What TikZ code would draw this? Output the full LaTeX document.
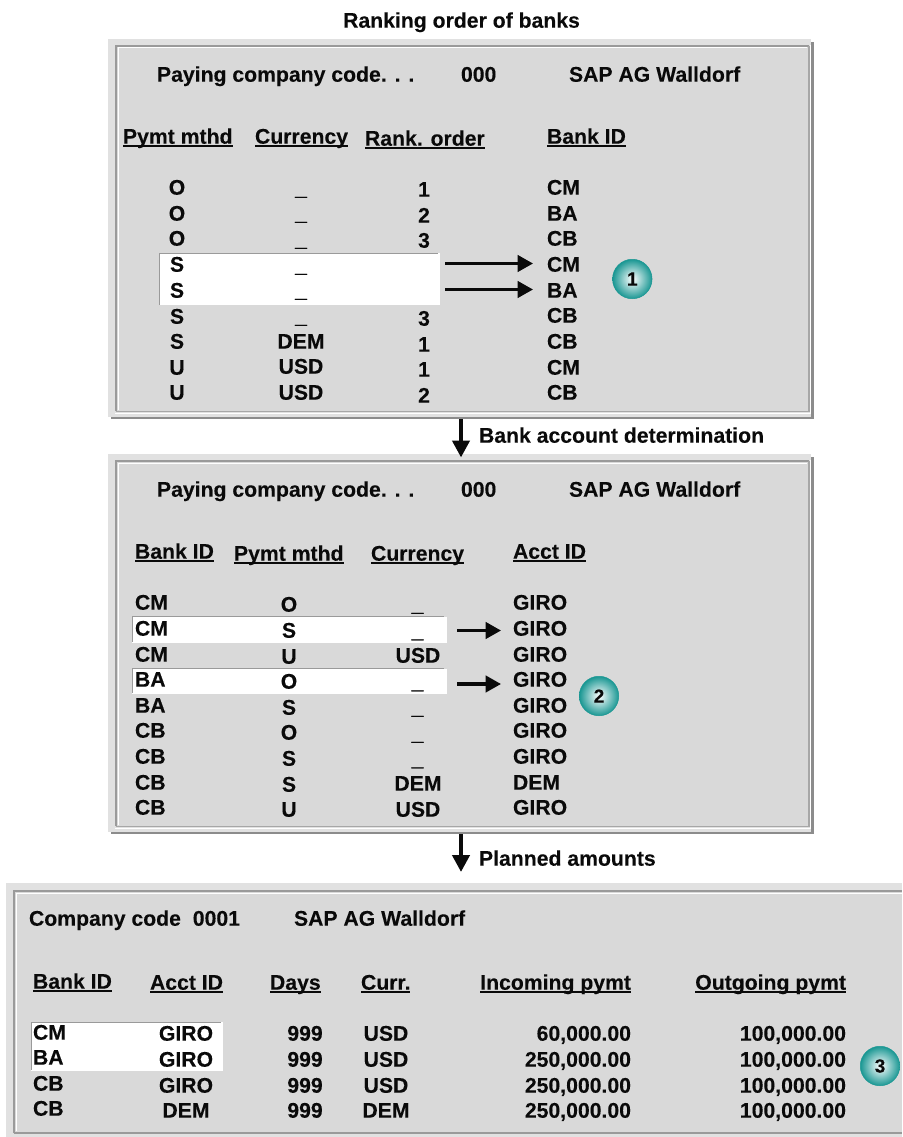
\documentclass[tikz,border=0pt]{standalone}
\usepackage{fontspec}
\setmainfont{Liberation Sans}[BoldFeatures={FakeBold=0.12}]
\newfontfamily\usfont{Liberation Sans}[BoldFeatures={FakeBold=1.1}]
\usetikzlibrary{arrows.meta}
\definecolor{panel}{HTML}{D9D9D9}
\definecolor{band}{HTML}{E1E1E1}
\definecolor{edge}{HTML}{9A9A9A}
\definecolor{shadow}{HTML}{8C8C8C}
\definecolor{ink}{HTML}{0A0A0A}
\definecolor{teal1}{HTML}{1A9793}
\newcommand\ul[1]{\setbox0\hbox{#1}\rlap{\rule[-3.6pt]{\wd0}{2.5pt}}\box0}
\newcommand\us{{\usfont\bfseries\symbol{95}}}
% \tx{anchor}{name}{x}{centre y}{text}
\newcommand\tx[5]{\node[lbl,anchor=#1] (#2) at (#3,#4) {#5};}
\newcommand\panelbox[4]{%
  \fill[shadow] (#1+3,#2+3) rectangle (#3+.5,#4+.7);
  \fill[band] (#1,#2) rectangle (#3-2,#4-1.3);
  \fill[panel] (#1+8,#2+7) rectangle (#3-4,#4-7);
  \draw[white,line width=1pt] (#1+10,#4-8) -- (#1+10,#2+9) -- (#3-6,#2+9);
  \draw[white,line width=1pt] (#1+7,#4-4.5) -- (#3-2.5,#4-4.5) -- (#3-2.5,#2+6);
  \draw[edge,line width=2pt] (#1+8,#4-7) -- (#1+8,#2+7) -- (#3-4,#2+7);
  \draw[edge!80!panel,line width=1.5pt] (#1+8,#4-6.5) -- (#3-4,#4-6.5) -- (#3-4,#2+7);
}
\newcommand\ball[4]{\node[ballstyle] (#1) at (#2,#3) {#4};}
\tikzset{
  lbl/.style={inner sep=0pt,outer sep=0pt,text=ink,font=\fontsize{21.2}{23}\selectfont\bfseries,yshift=-6.7pt},
  ballstyle/.style={circle,minimum size=39.5pt,inner sep=0pt,inner color=white,outer color=teal1,draw=teal1,line width=.5pt,
     font=\fontsize{19}{20}\selectfont\bfseries,text=ink},
  hflow/.style={line width=3.2pt,ink,-{Triangle[length=15.5pt,width=16.5pt]}},
  vflow/.style={line width=4.2pt,ink,-{Triangle[length=17pt,width=17pt]}},
  rowwhite/.style={fill=white},
  rowedge/.style={edge,line width=.7pt},
}
\begin{document}
\begin{tikzpicture}[x=1pt,y=-1pt]
\useasboundingbox (0,0) rectangle (902,1137);
\fill[white] (0,0) rectangle (902,1137);
\panelbox{108}{39}{813}{418}
\panelbox{108}{454}{813}{833}
% bottom panel runs off the right edge
\fill[band] (6,883) rectangle (902,1137);
\fill[panel] (14,891) rectangle (902,1133);
\draw[white,line width=1pt] (16.5,1131) -- (16.5,893.5) -- (902,893.5);
\draw[edge,line width=2pt] (14,1133) -- (14,891) -- (902,891);
\draw[edge,line width=1.3pt] (14,1133) -- (902,1133);
% white highlight rows
\fill[rowwhite] (159,253) rectangle (440,305);
\draw[rowedge] (159,305) -- (159,253) -- (438,253);
\fill[rowwhite] (132,616.5) rectangle (447,642.7);
\draw[rowedge] (132.5,642) -- (132.5,616.5) -- (444,616.5);
\fill[rowwhite] (132,668.5) rectangle (447,694);
\draw[rowedge] (132.5,693) -- (132.5,668.5) -- (444,668.5);
\fill[rowwhite] (31,1022) rectangle (223,1071);
\draw[rowedge] (31,1070) -- (31,1022) -- (221,1022);
% titles
\tx{base}{title}{461.5}{21}{Ranking order of banks}
\tx{base west}{stepA}{479}{436}{Bank account determination}
\tx{base west}{stepB}{479}{859}{Planned amounts}
% top panel
\tx{base west}{a0}{157}{75}{Paying company code. . .}
\tx{base west}{a1}{461}{75}{000}
\tx{base west}{a2}{569}{75}{SAP AG Walldorf}
\tx{base west}{ah1}{123}{137}{\ul{Pymt mthd}}
\tx{base west}{ah2}{255}{137}{\ul{Currency}}
\tx{base west}{ah3}{365}{139}{\ul{Rank. order}}
\tx{base west}{ah4}{547}{137}{\ul{Bank ID}}
\foreach \n/\y/\t in {1/188/O,2/214/O,3/239/O,4/265/S,5/291/S,6/317/S,7/342/S,8/368/U,9/393/U}
  {\tx{base}{ap\n}{177}{\y}{\t}}
\foreach \n/\y in {1/188.5,2/213.5,3/239.5,4/265.5,5/290.5,6/316.5}
  {\tx{base}{ac\n}{301}{\y}{\us}}
\foreach \n/\y/\t in {7/342/DEM,8/367/USD,9/393/USD}
  {\tx{base}{ac\n}{301}{\y}{\t}}
\foreach \n/\y/\t in {1/190/1,2/216/2,3/241/3,6/319/3,7/345/1,8/370/1,9/396/2}
  {\tx{base}{ar\n}{424}{\y}{\t}}
\foreach \n/\y/\t in {1/188/CM,2/214/BA,3/239/CB,4/265/CM,5/291/BA,6/316/CB,7/342/CB,8/368/CM,9/393/CB}
  {\tx{base west}{ab\n}{547}{\y}{\t}}
\ball{n1}{632.3}{279}{1}
\coordinate (a1s) at (445,263.5);
\coordinate (a2s) at (445,289.5);
\draw[hflow,shorten >=14pt] (a1s) -- (ab4.base west |- a1s);
\draw[hflow,shorten >=14pt] (a2s) -- (ab5.base west |- a2s);
% middle panel
\tx{base west}{b0}{157}{490}{Paying company code. . .}
\tx{base west}{b1}{461}{490}{000}
\tx{base west}{b2}{569}{490}{SAP AG Walldorf}
\tx{base west}{bh1}{135}{552}{\ul{Bank ID}}
\tx{base west}{bh2}{234}{554}{\ul{Pymt mthd}}
\tx{base west}{bh3}{371}{554}{\ul{Currency}}
\tx{base west}{bh4}{513}{552}{\ul{Acct ID}}
\foreach \n/\y/\t in {1/603/CM,2/629/CM,3/655/CM,4/680/BA,5/706/BA,6/731/CB,7/757/CB,8/783/CB,9/808/CB}
  {\tx{base west}{bb\n}{135}{\y}{\t}}
\foreach \n/\y/\t in {1/605/O,2/631/S,3/657/U,4/682/O,5/708/S,6/733/O,7/759/S,8/785/S,9/810/U}
  {\tx{base}{bp\n}{289}{\y}{\t}}
\foreach \n/\y in {1/604.5,2/631,4/682,5/707.5,6/733.5,7/759}
  {\tx{base}{bc\n}{417.5}{\y}{\us}}
\foreach \n/\y/\t in {3/656/USD,8/784/DEM,9/810/USD}
  {\tx{base}{bc\n}{418}{\y}{\t}}
\foreach \n/\y/\t in {1/603/GIRO,2/629/GIRO,3/655/GIRO,4/680/GIRO,5/706/GIRO,6/731/GIRO,7/757/GIRO,8/783/DEM,9/808/GIRO}
  {\tx{base west}{ba\n}{513}{\y}{\t}}
\ball{n2}{599}{696}{2}
\coordinate (b1s) at (457,630.5);
\coordinate (b2s) at (457,684);
\draw[hflow,shorten >=12pt] (b1s) -- (ba2.base west |- b1s);
\draw[hflow,shorten >=12pt] (b2s) -- (ba4.base west |- b2s);
% bottom panel
\tx{base west}{c0}{29}{919}{Company code\hspace{6pt} 0001}
\tx{base west}{c2}{294}{919}{SAP AG Walldorf}
\tx{base west}{ch1}{33}{982}{\ul{Bank ID}}
\tx{base west}{ch2}{150}{983}{\ul{Acct ID}}
\tx{base west}{ch3}{270}{983}{\ul{Days}}
\tx{base west}{ch4}{361}{983}{\ul{Curr.}}
\tx{base east}{ch5}{631}{983}{\ul{Incoming pymt}}
\tx{base east}{ch6}{846}{983}{\ul{Outgoing pymt}}
\foreach \n/\y/\t in {1/1033/CM,2/1058/BA,3/1084/CB,4/1109/CB}
  {\tx{base west}{cb\n}{33}{\y}{\t}}
\foreach \n/\y/\t in {1/1034/GIRO,2/1060/GIRO,3/1086/GIRO,4/1111/DEM}
  {\tx{base}{ca\n}{186}{\y}{\t}}
\foreach \n/\y in {1/1034,2/1060,3/1086,4/1111}
  {\tx{base}{cd\n}{305}{\y}{999}}
\foreach \n/\y/\t in {1/1034/USD,2/1060/USD,3/1086/USD,4/1111/DEM}
  {\tx{base}{cc\n}{386}{\y}{\t}}
\foreach \n/\y/\t in {1/1034/{60,000.00},2/1060/{250,000.00},3/1086/{250,000.00},4/1111/{250,000.00}}
  {\tx{base east}{ci\n}{631}{\y}{\t}}
\foreach \n/\y in {1/1034,2/1060,3/1086,4/1111}
  {\tx{base east}{co\n}{846}{\y}{100,000.00}}
\ball{n3}{880}{1066}{3}
% flow arrows between panels
\coordinate (v1s) at (461,419);
\coordinate (v1e) at (461,457.5);
\coordinate (v2s) at (461,834);
\coordinate (v2e) at (461,872);
\draw[vflow] (v1s) -- (v1e);
\draw[vflow] (v2s) -- (v2e);
\end{tikzpicture}
\end{document}
